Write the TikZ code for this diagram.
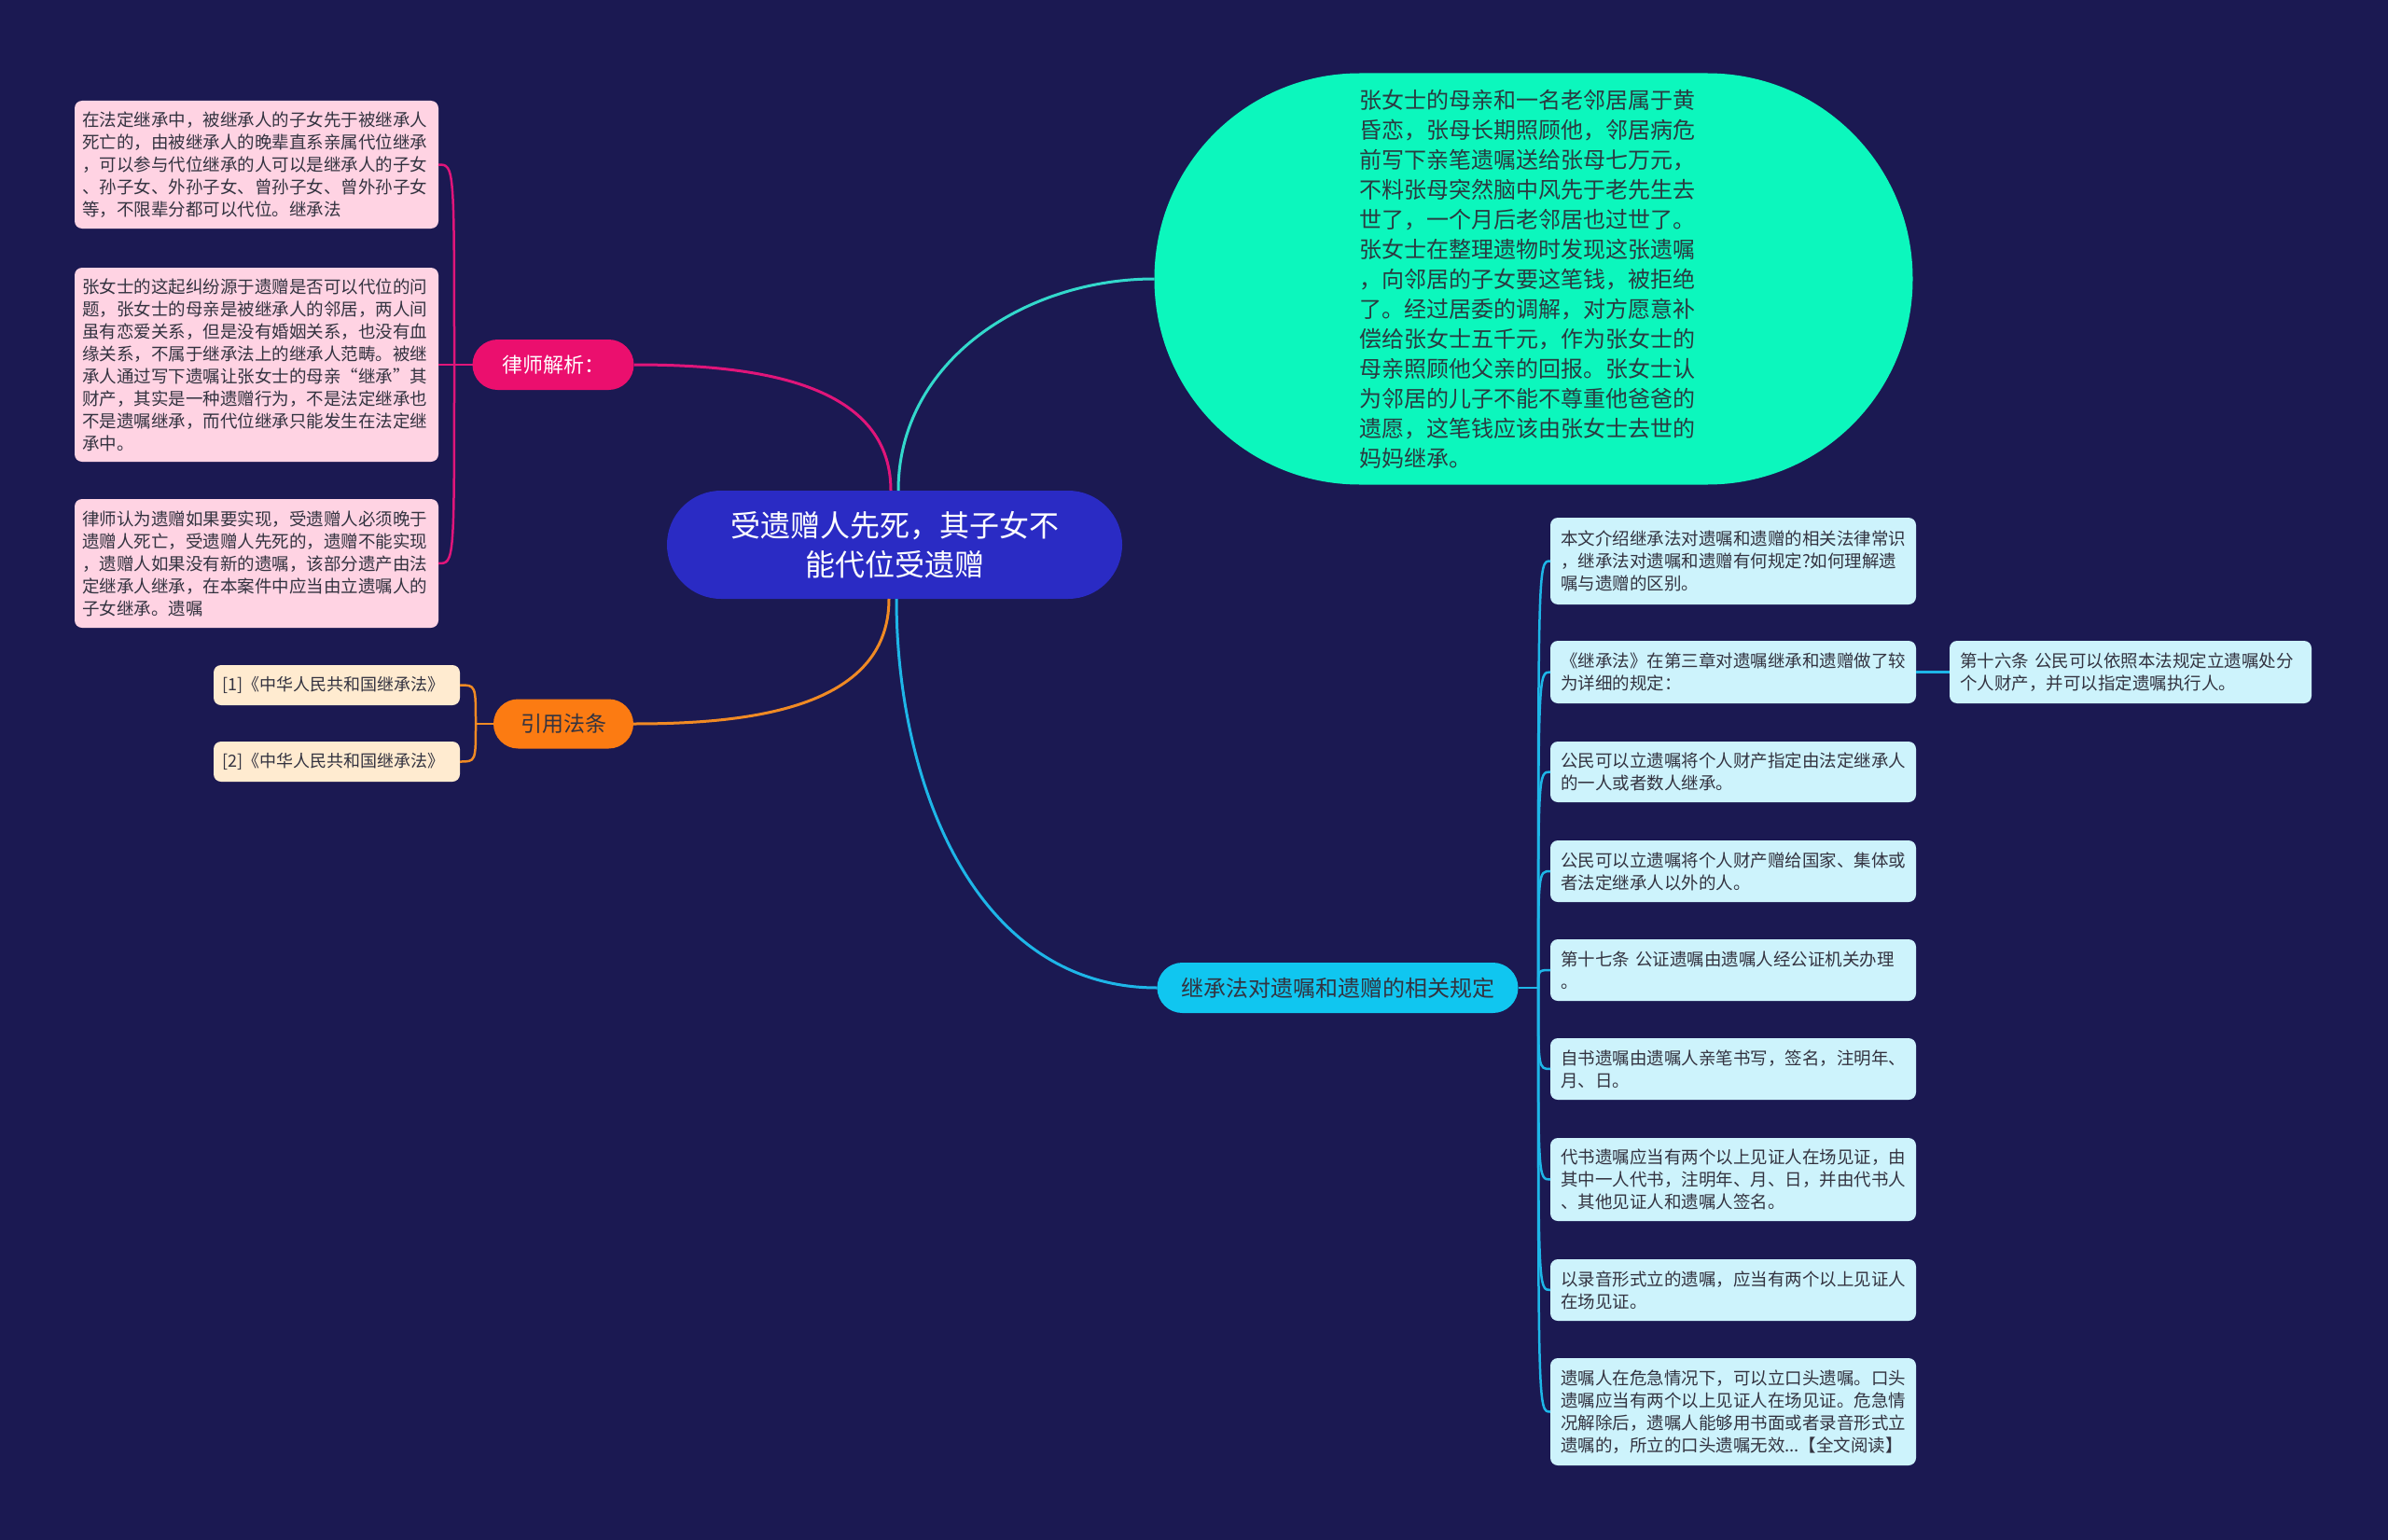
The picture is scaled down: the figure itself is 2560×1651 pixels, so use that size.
\documentclass[tikz,border=0pt]{standalone}
\usepackage{fontspec}
\newfontfamily\cjk{Noto Sans CJK SC}
\definecolor{bg}{HTML}{1B1952}
\definecolor{cmain}{HTML}{2A2BC4}
\definecolor{pinkmain}{HTML}{EB0F6E}
\definecolor{pinkline}{HTML}{E0157A}
\definecolor{pinkleaf}{HTML}{FFD3E3}
\definecolor{orgmain}{HTML}{FC7B12}
\definecolor{orgline}{HTML}{F08A24}
\definecolor{orgleaf}{HTML}{FFEBD0}
\definecolor{grnmain}{HTML}{0CF7BD}
\definecolor{grnline}{HTML}{33D9CC}
\definecolor{blumain}{HTML}{10C6F0}
\definecolor{bluline}{HTML}{1EB6E8}
\definecolor{bluleaf}{HTML}{CDF3FC}
\definecolor{txtdark}{HTML}{333340}
\definecolor{grntxt}{HTML}{2A3A40}
\begin{document}
\begin{tikzpicture}[x=1pt,y=-1pt,
  every node/.style={inner sep=0pt, outer sep=0pt},
  sfont/.style={font=\cjk\fontsize{18.5}{24}\selectfont},
  leafp/.style={sfont, fill=pinkleaf, rounded corners=8pt, text=txtdark, align=left, text width=374pt, inner xsep=8pt},
  leafo/.style={font=\cjk\fontsize{18}{24}\selectfont, fill=orgleaf, rounded corners=8pt, text=txtdark, align=left, text width=246pt, inner xsep=9pt, minimum height=43pt},
  leafb/.style={sfont, fill=bluleaf, rounded corners=8pt, text=txtdark, align=left, text width=370pt, inner xsep=11pt},
  pline/.style={draw=pinkline, line width=2.5pt},
  oline/.style={draw=orgline, line width=2.5pt},
  bline/.style={draw=bluline, line width=2.5pt},
  mline/.style={line width=3pt}]
\useasboundingbox (0,0) rectangle (2560,1651);
\fill[bg] (0,0) rectangle (2560,1651);

% central
\node[fill=cmain, rounded corners=58pt, minimum width=488pt, minimum height=116pt, text=white, align=center, font=\cjk\fontsize{32}{42}\selectfont] (c) at (959,584) {受遗赠人先死，其子女不\\能代位受遗赠};

% green story
\node[fill=grnmain, rounded corners=220pt, minimum width=813pt, minimum height=441pt, text=grntxt, align=left, text width=374pt, font=\cjk\fontsize{24}{32}\selectfont] (g) at (1644,299) {张女士的母亲和一名老邻居属于黄\\昏恋，张母长期照顾他，邻居病危\\前写下亲笔遗嘱送给张母七万元，\\不料张母突然脑中风先于老先生去\\世了，一个月后老邻居也过世了。\\张女士在整理遗物时发现这张遗嘱\\，向邻居的子女要这笔钱，被拒绝\\了。经过居委的调解，对方愿意补\\偿给张女士五千元，作为张女士的\\母亲照顾他父亲的回报。张女士认\\为邻居的儿子不能不尊重他爸爸的\\遗愿，这笔钱应该由张女士去世的\\妈妈继承。};

% pink branch
\node[fill=pinkmain, rounded corners=27pt, minimum width=173pt, minimum height=54pt, text=white, font=\cjk\fontsize{22}{26}\selectfont] (pn) at (593,391) {律师解析：};
\node[leafp, minimum height=137pt] (p1) at (275,176.5) {在法定继承中，被继承人的子女先于被继承人\\死亡的，由被继承人的晚辈直系亲属代位继承\\，可以参与代位继承的人可以是继承人的子女\\、孙子女、外孙子女、曾孙子女、曾外孙子女\\等，不限辈分都可以代位。继承法};
\node[leafp, minimum height=208pt] (p2) at (275,391) {张女士的这起纠纷源于遗赠是否可以代位的问\\题，张女士的母亲是被继承人的邻居，两人间\\虽有恋爱关系，但是没有婚姻关系，也没有血\\缘关系，不属于继承法上的继承人范畴。被继\\承人通过写下遗嘱让张女士的母亲“继承”其\\财产，其实是一种遗赠行为，不是法定继承也\\不是遗嘱继承，而代位继承只能发生在法定继\\承中。};
\node[leafp, minimum height=138pt] (p3) at (275,604) {律师认为遗赠如果要实现，受遗赠人必须晚于\\遗赠人死亡，受遗赠人先死的，遗赠不能实现\\，遗赠人如果没有新的遗嘱，该部分遗产由法\\定继承人继承，在本案件中应当由立遗嘱人的\\子女继承。遗嘱};

% orange branch
\node[fill=orgmain, rounded corners=26.5pt, minimum width=150pt, minimum height=53pt, text=txtdark, font=\cjk\fontsize{23}{27}\selectfont] (on) at (604,776) {引用法条};
\node[leafo] (o1) at (361,734.5) {[1]《中华人民共和国继承法》};
\node[leafo] (o2) at (361,816.5) {[2]《中华人民共和国继承法》};

% blue branch
\node[fill=blumain, rounded corners=27pt, minimum width=387pt, minimum height=54pt, text=txtdark, font=\cjk\fontsize{24}{28}\selectfont] (bn) at (1434,1059) {继承法对遗嘱和遗赠的相关规定};
\node[leafb, minimum height=93pt] (b1) at (1858,601.5) {本文介绍继承法对遗嘱和遗赠的相关法律常识\\，继承法对遗嘱和遗赠有何规定?如何理解遗\\嘱与遗赠的区别。};
\node[leafb, minimum height=67pt] (b2) at (1858,720.5) {《继承法》在第三章对遗嘱继承和遗赠做了较\\为详细的规定：};
\node[leafb, minimum height=65pt] (b3) at (1858,827.5) {公民可以立遗嘱将个人财产指定由法定继承人\\的一人或者数人继承。};
\node[leafb, minimum height=66pt] (b4) at (1858,934) {公民可以立遗嘱将个人财产赠给国家、集体或\\者法定继承人以外的人。};
\node[leafb, minimum height=66pt] (b5) at (1858,1040) {第十七条 公证遗嘱由遗嘱人经公证机关办理\\。};
\node[leafb, minimum height=66pt] (b6) at (1858,1146) {自书遗嘱由遗嘱人亲笔书写，签名，注明年、\\月、日。};
\node[leafb, minimum height=89pt] (b7) at (1858,1264.5) {代书遗嘱应当有两个以上见证人在场见证，由\\其中一人代书，注明年、月、日，并由代书人\\、其他见证人和遗嘱人签名。};
\node[leafb, minimum height=66pt] (b8) at (1858,1383) {以录音形式立的遗嘱，应当有两个以上见证人\\在场见证。};
\node[leafb, minimum height=115pt] (b9) at (1858,1513.5) {遗嘱人在危急情况下，可以立口头遗嘱。口头\\遗嘱应当有两个以上见证人在场见证。危急情\\况解除后，遗嘱人能够用书面或者录音形式立\\遗嘱的，所立的口头遗嘱无效...【全文阅读】};
\node[leafb, text width=366pt, minimum height=67pt] (s1) at (2284,720.5) {第十六条 公民可以依照本法规定立遗嘱处分\\个人财产，并可以指定遗嘱执行人。};

% main connectors
\draw[mline, draw=grnline] ([xshift=4pt]c.north) to[out=90,in=180] (g.west);
\draw[mline, draw=pinkline] ([xshift=-4pt]c.north) to[out=90,in=0] (pn.east);
\draw[mline, draw=orgline] ([xshift=-6pt]c.south) to[out=-90,in=0] (on.east);
\draw[mline, draw=bluline] ([xshift=2pt]c.south) to[out=-90,in=180] (bn.west);

% pink bracket
\coordinate (pj) at (487,391);
\draw[pline] (pn.west) -- (pj);
\foreach \n in {p1,p2,p3}{
  \draw[pline] (pj) .. controls (pj |- \n) and (pj |- \n) .. (\n.east);
}
% orange bracket
\coordinate (oj) at (510,776);
\draw[oline] (on.west) -- (oj);
\foreach \n in {o1,o2}{
  \draw[oline] (oj) .. controls (oj |- \n) and (oj |- \n) .. (\n.east);
}
% blue bracket
\coordinate (bj) at (1649,1059);
\draw[bline] (bn.east) -- (bj);
\foreach \n in {b1,b2,b3,b4,b5,b6,b7,b8,b9}{
  \draw[bline] (bj) .. controls (bj |- \n) and (bj |- \n) .. (\n.west);
}
\draw[bline] (b2.east) -- (s1.west);
\end{tikzpicture}
\end{document}
